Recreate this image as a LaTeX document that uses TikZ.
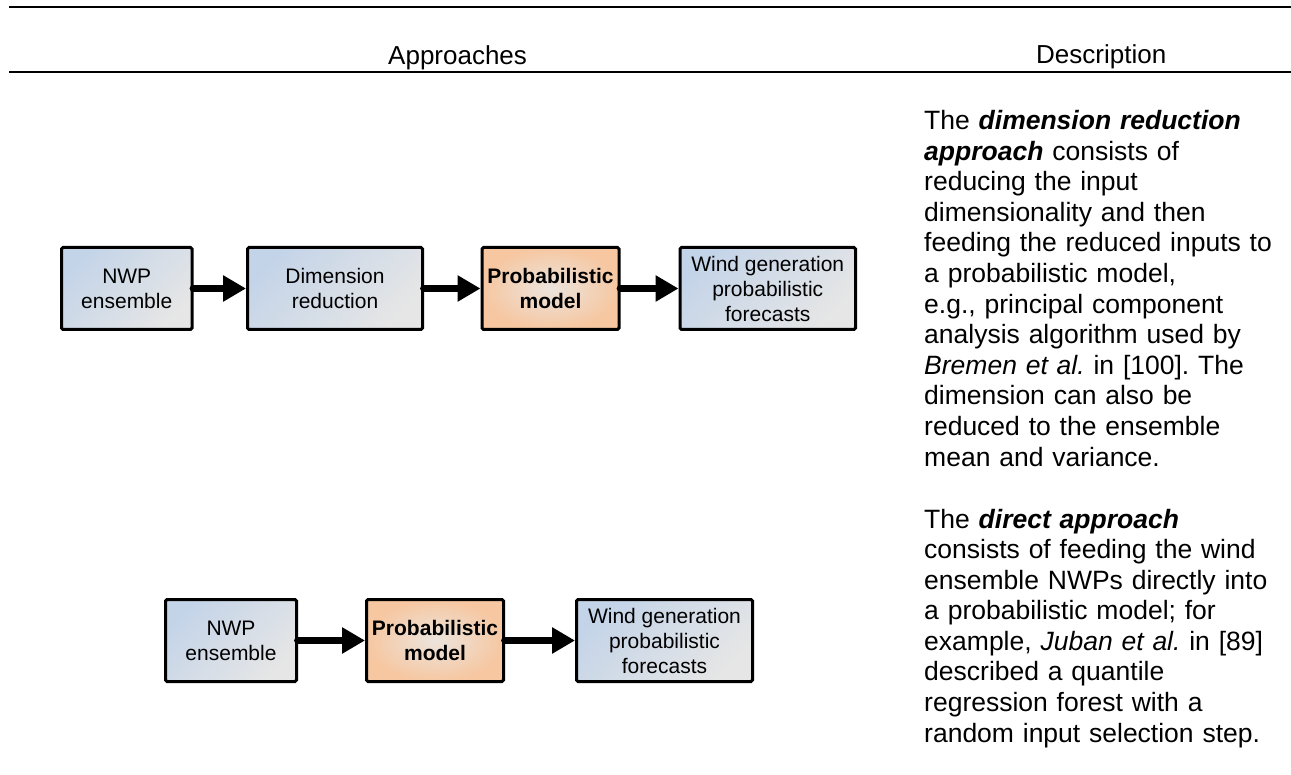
\documentclass[tikz,border=0pt]{standalone}
\usepackage{fontspec}
\setmainfont{Liberation Sans}
\usetikzlibrary{arrows.meta}
\frenchspacing
\definecolor{boxblue}{HTML}{C4D4E8}
\definecolor{boxgray}{HTML}{E6E6E6}
\definecolor{boxorange}{HTML}{F6C7A1}
\definecolor{boxlight}{HTML}{ECE4DD}
\tikzset{
  abox/.style={draw=black, line width=3pt, rounded corners=1.5pt, inner sep=0pt,
    minimum height=82pt, align=center, font=\fontsize{21}{25}\selectfont,
    top color=boxblue, bottom color=boxgray, shading angle=45},
  pbox/.style={draw=black, line width=3pt, rounded corners=1.5pt, inner sep=0pt,
    minimum height=82pt, minimum width=137pt, align=center,
    font=\fontsize{21}{25}\selectfont\bfseries,
    inner color=boxlight, outer color=boxorange},
  flow/.style={line width=7.8pt, line cap=round, -{Triangle[length=23pt,width=25pt]}},
  rule/.style={line width=2.2pt},
  hdr/.style={anchor=base west, inner sep=0pt, font=\fontsize{26}{30}\selectfont},
  desc/.style={anchor=base west, inner sep=0pt, text width=360pt, align=left,
    font=\fontsize{26.5}{30.6}\selectfont\frenchspacing}
}
\begin{document}
\begin{tikzpicture}[x=1pt,y=-1pt]
\useasboundingbox (0,0) rectangle (1291,775);
% rules
\draw[rule] (9,7) -- (1291,7);
\draw[rule, line width=2.6pt] (9,72) -- (1291,72);
% headers
\node[hdr] (hA) at (388,65) {Approaches};
\node[hdr] (hD) at (1036,64) {Description};
% row 1
\node[abox, minimum width=130.5pt] (n1) at (126.75,288.5) {NWP\\ensemble};
\node[abox, minimum width=175pt] (d1) at (335,288.5) {Dimension\\reduction};
\node[pbox] (p1) at (550.5,288.5) {Probabilistic\\model};
\node[abox, minimum width=175.5pt] (w1) at (767.75,288.5) {Wind generation\\probabilistic\\forecasts};
\draw[flow] (n1.east) -- (d1.west);
\draw[flow] (d1.east) -- (p1.west);
\draw[flow] (p1.east) -- (w1.west);
% row 2
\node[abox, minimum width=131pt] (n2) at (231,640.5) {NWP\\ensemble};
\node[pbox] (p2) at (435,640.5) {Probabilistic\\model};
\node[abox, minimum width=176pt] (w2) at (664.5,640.5) {Wind generation\\probabilistic\\forecasts};
\draw[flow] (n2.east) -- (p2.west);
\draw[flow] (p2.east) -- (w2.west);
% descriptions
\node[desc] (t1) at (924,129.5) {The {\bfseries\itshape dimension reduction}\\
{\bfseries\itshape approach} consists of\\
reducing the input\\
dimensionality and then\\
feeding the reduced inputs to\\
a probabilistic model,\\
e.g., principal component\\
analysis algorithm used by\\
{\itshape Bremen et al.} in [100]. The\\
dimension can also be\\
reduced to the ensemble\\
mean and variance.};
\node[desc] (t2) at (924,528) {The {\bfseries\itshape direct approach}\\
consists of feeding the wind\\
ensemble NWPs directly into\\
a probabilistic model; for\\
example, {\itshape Juban et al.} in [89]\\
described a quantile\\
regression forest with a\\
random input selection step.};
\end{tikzpicture}
\end{document}
